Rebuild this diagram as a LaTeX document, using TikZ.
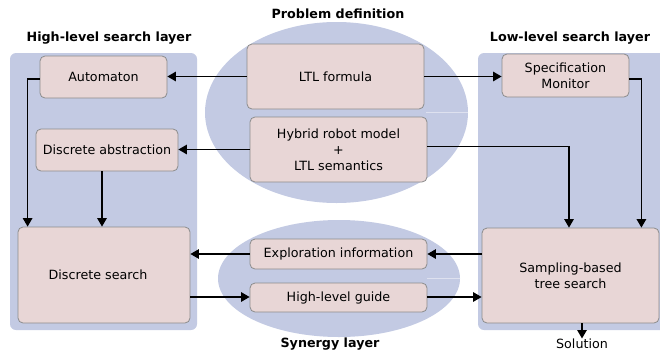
\documentclass[tikz,border=0pt]{standalone}
\usepackage{fontspec}
\setmainfont{DejaVu Sans}
\usetikzlibrary{arrows.meta}
\definecolor{panelblue}{HTML}{C3CAE3}
\definecolor{boxpink}{HTML}{E8D6D6}
\definecolor{boxborder}{HTML}{8C8C8C}
\begin{document}
\begin{tikzpicture}[x=1pt,y=-1pt,
  every node/.style={font=\fontsize{12.7}{16}\selectfont},
  box/.style={draw=boxborder,fill=boxpink,rounded corners=5pt,line width=0.8pt,align=center,inner sep=0pt},
  ttl/.style={font=\fontsize{12.7}{16}\selectfont\bfseries,inner sep=0pt},
  arr/.style={line width=1.3pt,-{Triangle[length=8.5pt,width=9.5pt]}},
  ln/.style={line width=1.3pt}]
\useasboundingbox (0,0) rectangle (660,351);
% panels
\fill[panelblue,rounded corners=6pt] (10,53) rectangle (197,330);
\fill[panelblue,rounded corners=6pt] (478,53) rectangle (668,330);
% ellipses
\fill[panelblue] (336.5,112.5) ellipse [x radius=131.5, y radius=90.5];
\fill[panelblue] (339,278.5) ellipse [x radius=121, y radius=58.5];
\draw[white,line width=0.6pt,opacity=0.45] (426,112.5) -- (468,112.5);
\draw[white,line width=0.6pt,opacity=0.45] (427,278.5) -- (460,278.5);
% titles
\node[ttl] (tprob) at (338,14) {Problem definition};
\node[ttl] (thigh) at (109,38) {High-level search layer};
\node[ttl] (tlow) at (570,38) {Low-level search layer};
\node[ttl] (tsyn) at (330,344) {Synergy layer};
% boxes
\node[box,minimum width=127pt,minimum height=42pt] (auto) at (103.5,77) {Automaton};
\node[box,minimum width=142pt,minimum height=42pt] (abs) at (107,150) {Discrete abstraction};
\node[box,minimum width=177pt,minimum height=65pt] (ltl) at (335.5,76.5) {LTL formula};
\node[box,minimum width=177pt,minimum height=65pt] (hyb) at (338.5,149.5) {Hybrid robot model\\+\\LTL semantics};
\node[box,minimum width=127pt,minimum height=43pt] (spec) at (565.5,75.5) {Specification\\Monitor};
\node[box,minimum width=172pt,minimum height=96pt] (ds) at (104,275) {\hspace*{-12pt}Discrete search};
\node[box,minimum width=177pt,minimum height=30pt] (expl) at (338.5,254) {Exploration information};
\node[box,minimum width=177pt,minimum height=29pt] (guide) at (338.5,297.5) {High-level guide};
\node[box,minimum width=177pt,minimum height=95pt] (samp) at (570.5,275.5) {Sampling-based\\tree search};
\node[inner sep=0pt,anchor=north] (sol) at (582,338.5) {Solution};
% connectors
\draw[arr] (ltl.west) -- (ltl.west -| auto.east);
\draw[arr] (ltl.east) -- (ltl.east -| spec.west);
\draw[arr] (hyb.west) -- (hyb.west -| abs.east);
\draw[arr] ([yshift=3pt]hyb.east) -| ([xshift=-1.5pt]samp.north);
\draw[arr] ([yshift=-3.5pt]spec.east) -| ([xshift=-18pt]samp.north east);
\draw[arr] ([yshift=-2pt]auto.west) -| ([xshift=10pt]ds.north west);
\draw[arr] ([xshift=-5pt]abs.south) -- ([xshift=-5pt]abs.south |- ds.north);
\draw[arr] (expl.east -| samp.west) -- (expl.east);
\draw[arr] (expl.west) -- (expl.west -| ds.east);
\draw[arr] ([yshift=0.5pt]guide.west -| ds.east) -- ([yshift=0.5pt]guide.west);
\draw[arr] ([yshift=0.5pt]guide.east) -- ([yshift=0.5pt]guide.east -| samp.west);
\draw[arr] ([xshift=11.5pt]samp.south) -- (sol.north);
\end{tikzpicture}
\end{document}
